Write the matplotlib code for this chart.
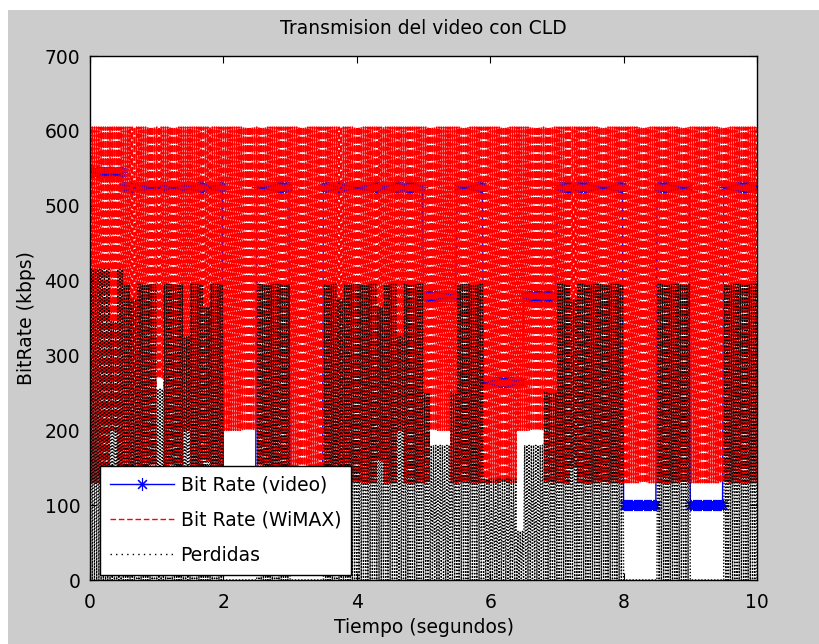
import matplotlib.pyplot as plt
import numpy as np
from matplotlib.lines import Line2D
from matplotlib.patches import Rectangle

# Video bit rate: step levels between change times (s, kbps)
video_edges = [0.0, 0.5, 2.0, 2.5, 3.0, 3.5, 5.0, 5.5, 5.9, 6.5, 7.0, 8.0, 8.5, 9.0, 9.5, 10.0]
video_levels = [545, 525, 100, 525, 100, 525, 380, 525, 265, 380, 525, 100, 525, 100, 525]

# WiMAX bit rate: peak value and per-0.1 s minimum values
wimax_peak = 605
wimax_lows = [
    130, 130, 130, 200, 130, 130, 150, 130, 130, 130,
    270, 130, 130, 130, 200, 130, 130, 160, 130, 130,
    200, 200, 200, 200, 200, 130, 130, 130, 130, 130,
    130, 130, 130, 130, 130, 130, 130, 150, 130, 130,
    130, 130, 130, 160, 130, 130, 200, 130, 130, 130,
    130, 200, 200, 200, 130, 130, 130, 130, 130, 130,
    130, 130, 130, 130, 200, 200, 200, 200, 130, 130,
    130, 130, 150, 130, 130, 130, 130, 130, 130, 130,
    130, 130, 130, 130, 130, 130, 130, 130, 130, 130,
    130, 130, 130, 130, 130, 130, 130, 130, 130, 130,
]

samples_per_bin = 6
t = np.linspace(0, 10, len(wimax_lows) * samples_per_bin + 1)

# build the sampled series
lows = np.repeat(wimax_lows, samples_per_bin)
lows = np.append(lows, wimax_lows[-1])
wimax = np.where(np.arange(len(t)) % 2 == 0, wimax_peak, lows)
idx = np.clip(np.searchsorted(video_edges, t, side="right") - 1, 0, len(video_levels) - 1)
video = np.array(video_levels)[idx]
perdidas = np.maximum(video - wimax, 0)

fs = 13.5
fig = plt.figure(figsize=(8.19, 6.44), dpi=100)
fig.patches.append(Rectangle((8 / 819, 0), 1, (644 - 10) / 644, transform=fig.transFigure,
                             facecolor="#cccccc", edgecolor="none", zorder=-10))
ax = fig.add_axes([90 / 819, 64 / 644, 667 / 819, 524 / 644])

ax.plot(t, video, color="blue", linewidth=1, marker=(8, 2, 0), markersize=8,
        markeredgewidth=0.7, label="Bit Rate (video)")
ax.plot(t, wimax, color="red", linewidth=1.2, dashes=(4, 1.2), label="Bit Rate (WiMAX)")
ax.plot(t, perdidas, color="black", linewidth=1.0, dashes=(1, 1.3), label="Perdidas")

ax.set_xlim(0, 10)
ax.set_ylim(0, 700)
ax.set_xticks(np.arange(0, 11, 2))
ax.set_yticks(np.arange(0, 701, 100))
ax.tick_params(direction="in", top=True, right=True, length=5, labelsize=fs)
ax.tick_params(axis="x", pad=9)
ax.tick_params(axis="y", pad=7)
for s in ax.spines.values():
    s.set_linewidth(1)
ax.set_title("Transmision del video con CLD", fontsize=fs, pad=16)
ax.set_xlabel("Tiempo (segundos)", fontsize=fs, labelpad=5)
ax.set_ylabel("BitRate (kbps)", fontsize=fs, labelpad=6)

handles = [
    Line2D([], [], color="blue", linewidth=1, marker=(8, 2, 0), markersize=9, markevery=[1],
           markeredgewidth=0.8),
    Line2D([], [], color="red", linewidth=1, dashes=(4, 2)),
    Line2D([], [], color="black", linewidth=1, dashes=(1, 3)),
]
leg = ax.legend(handles, ["Bit Rate (video)", "Bit Rate (WiMAX)", "Perdidas"],
                loc="lower left", bbox_to_anchor=(10 / 667, 5 / 524), borderaxespad=0,
                fontsize=fs, fancybox=False, framealpha=1, edgecolor="black",
                handlelength=3.4, handletextpad=0.35, borderpad=0.55, labelspacing=0.85)
leg.get_frame().set_linewidth(1)

fig.savefig("out.png", dpi=100)
